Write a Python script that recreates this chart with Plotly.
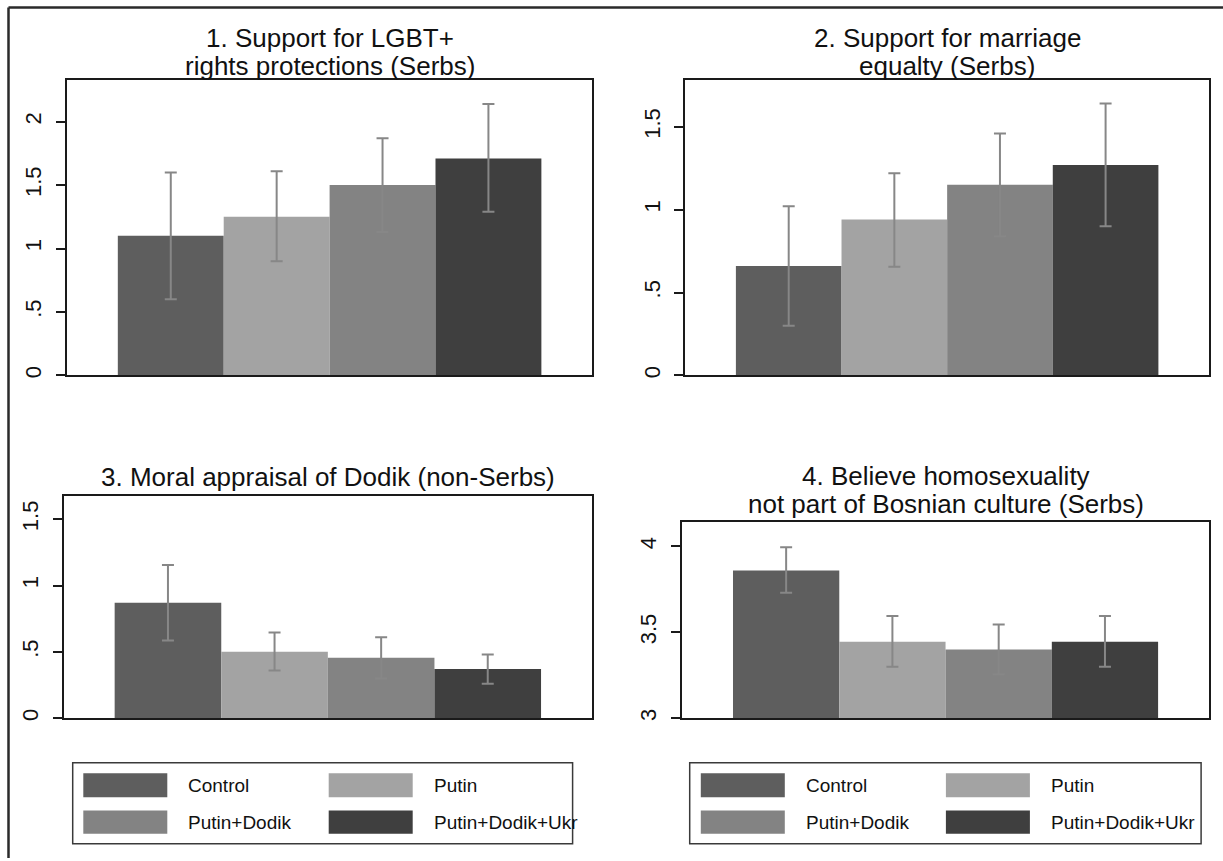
import plotly.graph_objects as go

# Treatment groups and their fill shades
groups = ["Control", "Putin", "Putin+Dodik", "Putin+Dodik+Ukr"]
colors = ["#5e5e5e", "#a3a3a3", "#838383", "#3f3f3f"]

# 1. Support for LGBT+ rights protections (Serbs)
lgbt_mean = [1.10, 1.25, 1.50, 1.71]
lgbt_lo = [0.60, 0.90, 1.13, 1.29]
lgbt_hi = [1.60, 1.61, 1.87, 2.14]

# 2. Support for marriage equality (Serbs)
marr_mean = [0.66, 0.94, 1.15, 1.27]
marr_lo = [0.30, 0.655, 0.84, 0.90]
marr_hi = [1.02, 1.22, 1.46, 1.64]

# 3. Moral appraisal of Dodik (non-Serbs)
dodik_mean = [0.87, 0.50, 0.455, 0.37]
dodik_lo = [0.585, 0.36, 0.30, 0.26]
dodik_hi = [1.155, 0.645, 0.61, 0.48]

# 4. Believe homosexuality not part of Bosnian culture (Serbs)
cult_mean = [3.86, 3.445, 3.40, 3.445]
cult_lo = [3.73, 3.30, 3.255, 3.30]
cult_hi = [3.995, 3.595, 3.545, 3.595]

title_lines = [
    ["1. Support for LGBT+", "rights protections (Serbs)"],
    ["2. Support for marriage", "equalty (Serbs)"],
    ["3. Moral appraisal of Dodik (non-Serbs)"],
    ["4. Believe homosexuality", "not part of Bosnian culture (Serbs)"],
]

tickvals = [[0, 0.5, 1, 1.5, 2], [0, 0.5, 1, 1.5], [0, 0.5, 1, 1.5], [3, 3.5, 4]]
ticktext = [["0", ".5", "1", "1.5", "2"], ["0", ".5", "1", "1.5"],
            ["0", ".5", "1", "1.5"], ["3", "3.5", "4"]]
yranges = [[0, 2.325], [0, 1.78], [0, 1.675], [3, 4.139]]

panels = [
    (lgbt_mean, lgbt_lo, lgbt_hi),
    (marr_mean, marr_lo, marr_hi),
    (dodik_mean, dodik_lo, dodik_hi),
    (cult_mean, cult_lo, cult_hi),
]

W, H = 1223, 861
FONT = "Liberation Sans, Arial, Helvetica, sans-serif"


def px(x):
    return x / W


def py(y):
    return 1 - y / H


# plot-region boxes in pixels: (left, top, right, bottom)
boxes = [
    (67.1, 80.7, 592.1, 376.7),
    (685.3, 80.7, 1209.0, 376.7),
    (63.6, 497.7, 592.1, 720.7),
    (682.1, 524.3, 1209.0, 720.7),
]
# title baselines per panel
title_base = [[47.5, 75.5], [47.5, 75.5], [487.5], [486.5, 514.5]]

fig = go.Figure()
positions = [1, 2, 3, 4]
gap = 0.479

layout_axes = {}
for i, ((mean, lo, hi), box) in enumerate(zip(panels, boxes)):
    n = "" if i == 0 else str(i + 1)
    fig.add_trace(go.Bar(
        x=positions, y=mean, width=[1] * 4,
        marker=dict(color=colors, line=dict(width=0)),
        error_y=dict(
            type="data", symmetric=False,
            array=[h - m for h, m in zip(hi, mean)],
            arrayminus=[m - l for m, l in zip(mean, lo)],
            color="#878787", thickness=2, width=6,
        ),
        xaxis="x" + n, yaxis="y" + n, showlegend=False,
        hoverinfo="skip",
    ))
    l, t, r, b = box
    layout_axes["xaxis" + n] = dict(
        domain=[px(l), px(r)], anchor="y" + n,
        range=[0.5 - gap, 4.5 + gap],
        showticklabels=False, ticks="", showgrid=False, zeroline=False,
        showline=True, linecolor="#1a1a1a", linewidth=2, mirror=True,
        fixedrange=True,
    )
    layout_axes["yaxis" + n] = dict(
        domain=[py(b), py(t)], anchor="x" + n,
        range=yranges[i], tickvals=tickvals[i], ticktext=ticktext[i],
        tickangle=-90, ticks="outside", ticklen=9, tickwidth=1.5,
        tickcolor="#1a1a1a", ticklabelstandoff=6,
        tickfont=dict(family=FONT, size=22, color="#111"),
        showgrid=False, zeroline=False,
        showline=True, linecolor="#1a1a1a", linewidth=2, mirror=True,
        fixedrange=True,
    )

annotations = []
for i, box in enumerate(boxes):
    l, t, r, b = box
    cx = (l + r) / 2
    for line, base in zip(title_lines[i], title_base[i]):
        annotations.append(dict(
            x=px(cx), y=py(base - 9), xref="paper", yref="paper",
            text=line, showarrow=False, xanchor="center", yanchor="middle",
            font=dict(family=FONT, size=26, color="#111"),
        ))

shapes = []
# outer frame (top and left edges)
shapes.append(dict(type="line", xref="paper", yref="paper",
                   x0=px(8.5), x1=1, y0=py(7.5), y1=py(7.5),
                   line=dict(color="#2a2a2a", width=2.5)))
shapes.append(dict(type="line", xref="paper", yref="paper",
                   x0=px(8.5), x1=px(8.5), y0=py(7.5), y1=0,
                   line=dict(color="#2a2a2a", width=2.5)))

# key boxes below the two lower panels
legend_boxes = [
    dict(box=(72.7, 765.3, 572.6, 846.7), sw=[83.3, 328.7], txt=[186.0, 431.7]),
    dict(box=(689.7, 765.3, 1201.1, 846.7), sw=[700.8, 945.9], txt=[804.0, 1048.8]),
]
sw_w = 84
rows = [(776.0, 800.0), (813.3, 836.7)]
for lg in legend_boxes:
    l, t, r, b = lg["box"]
    shapes.append(dict(type="rect", xref="paper", yref="paper",
                       x0=px(l), x1=px(r), y0=py(b), y1=py(t),
                       line=dict(color="#3a3a3a", width=1.5),
                       fillcolor="rgba(0,0,0,0)"))
    for k, (name, col) in enumerate(zip(groups, colors)):
        row, c = divmod(k, 2)
        y0, y1 = rows[row]
        sx = lg["sw"][c]
        shapes.append(dict(type="rect", xref="paper", yref="paper",
                           x0=px(sx), x1=px(sx + sw_w), y0=py(y1), y1=py(y0),
                           line=dict(width=0), fillcolor=col))
        annotations.append(dict(
            x=px(lg["txt"][c]), y=py((y0 + y1) / 2), xref="paper", yref="paper",
            text=name, showarrow=False, xanchor="left", yanchor="middle",
            font=dict(family=FONT, size=19, color="#111"),
        ))

fig.update_layout(
    width=W, height=H, autosize=False,
    margin=dict(l=0, r=0, t=0, b=0),
    paper_bgcolor="white", plot_bgcolor="white",
    annotations=annotations, shapes=shapes,
    **layout_axes,
)

fig.write_html("out.html", config={"displayModeBar": False})
